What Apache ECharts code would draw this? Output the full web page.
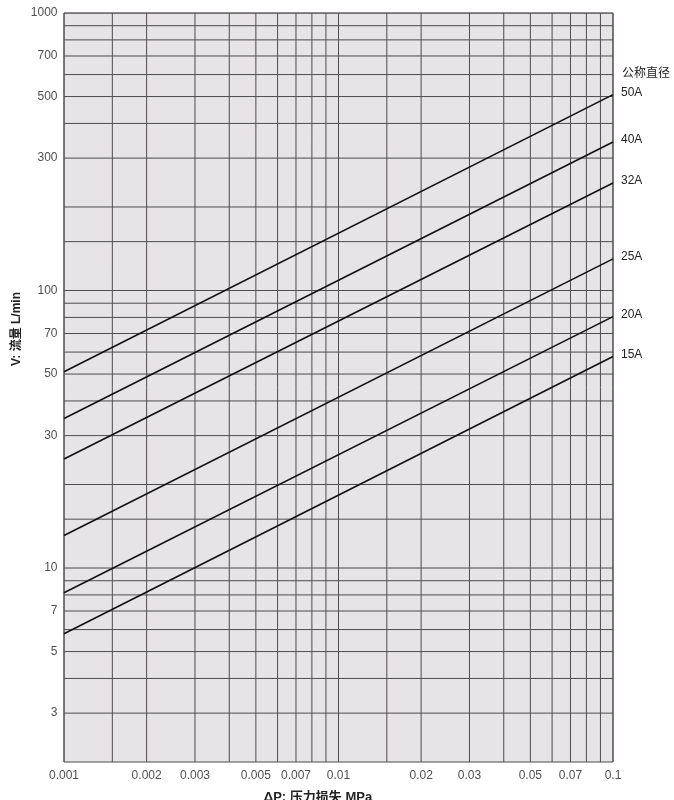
<!DOCTYPE html>
<html>
<head>
<meta charset="utf-8">
<script src="https://cdn.jsdelivr.net/npm/echarts@6/dist/echarts.min.js"></script>
<style>
html,body{margin:0;padding:0;background:#fff;}
#c{width:674px;height:800px;}
</style>
</head>
<body>
<div id="c"></div>
<script>
// ---- data ----
const xMin = 0.001, xMax = 0.1;
const yMin = 2, yMax = 1000;
const seriesNames = ['50A', '40A', '32A', '25A', '20A', '15A'];
const flowAtLow  = [51, 34.6, 24.7, 13.1, 8.15, 5.8];   // V at ΔP = 0.001
const flowAtHigh = [508, 343, 244, 130, 80.5, 57.8];   // V at ΔP = 0.1
const xTickLabels = [0.001, 0.002, 0.003, 0.005, 0.007, 0.01, 0.02, 0.03, 0.05, 0.07, 0.1];
const yTickLabels = [1000, 700, 500, 300, 100, 70, 50, 30, 10, 7, 5, 3];
const xGrid = [0.001, 0.0015, 0.002, 0.003, 0.004, 0.005, 0.006, 0.007, 0.008, 0.009,
               0.01, 0.015, 0.02, 0.03, 0.04, 0.05, 0.06, 0.07, 0.08, 0.09, 0.1];
const yGrid = [3, 4, 5, 6, 7, 8, 9, 10, 15, 20, 30, 40, 50, 60, 70, 80, 90,
               100, 150, 200, 300, 400, 500, 600, 700, 800, 900, 1000];
const legendTitle = '公称直径';
const yName = 'V: 流量 L/min';
const xName = 'ΔP: 压力损失 MPa';

// ---- chart ----
const chart = echarts.init(document.getElementById('c'));
const font = '"Liberation Sans", Arial, "Noto Sans CJK SC", sans-serif';
const gridColor = '#4e4c4e';

const gridSeries = xGrid.map(v => [[v, yMin], [v, yMax]])
  .concat(yGrid.map(v => [[xMin, v], [xMax, v]]))
  .map(pts => ({
    type: 'line', data: pts, symbol: 'none', silent: true, z: 2,
    lineStyle: { color: gridColor, width: 1 }
  }));

const lineSeries = seriesNames.map((n, i) => ({
  name: n,
  type: 'line',
  data: [[xMin, flowAtLow[i]], [xMax, flowAtHigh[i]]],
  symbol: 'none',
  lineStyle: { color: '#111', width: 1.6 },
  z: 5,
  silent: true,
  endLabel: {
    show: true,
    formatter: '{a}',
    distance: 8,
    offset: [0, -2],
    color: '#222',
    fontSize: 12,
    fontFamily: font
  }
}));

const option = {
  animation: false,
  backgroundColor: '#fff',
  grid: {
    left: 64, right: 61, top: 13, bottom: 38,
    show: true, backgroundColor: '#e7e4e7', borderColor: gridColor, borderWidth: 1
  },
  xAxis: {
    type: 'log', logBase: 10, min: xMin, max: xMax,
    axisLine: { show: false }, axisTick: { show: false },
    axisLabel: { show: false }, splitLine: { show: false }
  },
  yAxis: {
    type: 'log', logBase: 10, min: yMin, max: yMax,
    axisLine: { show: false }, axisTick: { show: false },
    axisLabel: { show: false }, splitLine: { show: false }
  },
  series: gridSeries.concat([
    {
      type: 'scatter', silent: true, clip: false, symbolSize: 1,
      itemStyle: { color: 'rgba(0,0,0,0)' },
      data: yTickLabels.map(v => [xMin, v]),
      label: {
        show: true, position: 'left', distance: 6,
        formatter: p => String(p.value[1]),
        color: '#222', fontSize: 12, fontFamily: font
      }
    },
    {
      type: 'scatter', silent: true, clip: false, symbolSize: 1,
      itemStyle: { color: 'rgba(0,0,0,0)' },
      data: xTickLabels.map(v => [v, yMin]),
      label: {
        show: true, position: 'bottom', distance: 7,
        formatter: p => String(p.value[0]),
        color: '#222', fontSize: 12, fontFamily: font
      }
    }
  ]).concat(lineSeries),
  graphic: [
    {
      type: 'text', left: 622, top: 68,
      style: { text: legendTitle, fill: '#222', fontSize: 12, fontFamily: font }
    },
    {
      type: 'text', x: 17, y: 329, rotation: Math.PI / 2,
      style: {
        text: yName, fill: '#222', fontSize: 12, fontWeight: 'bold', fontFamily: font,
        align: 'center', verticalAlign: 'middle'
      }
    },
    {
      type: 'text', x: 318, y: 797,
      style: {
        text: xName, fill: '#222', fontSize: 13, fontWeight: 'bold', fontFamily: font,
        align: 'center', verticalAlign: 'middle'
      }
    }
  ]
};
chart.setOption(option);
</script>
</body>
</html>
